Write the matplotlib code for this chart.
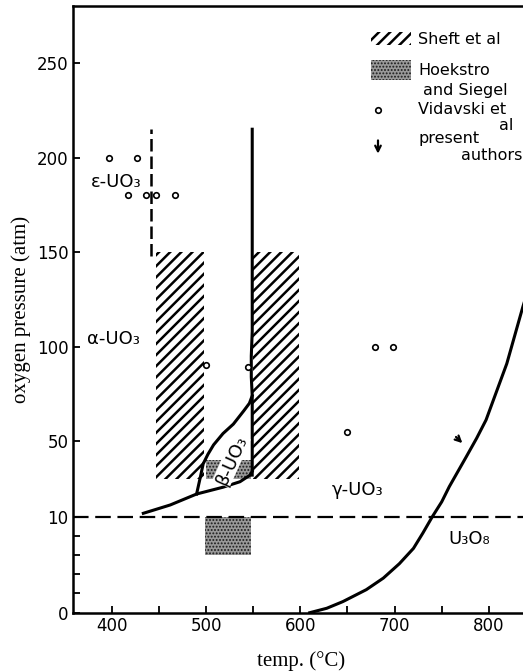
import numpy as np
import matplotlib
matplotlib.use('Agg')
import matplotlib.pyplot as plt
from matplotlib.patches import Rectangle

# --- data ---
# U3O8 boundary (temp degC, oxygen pressure atm)
u3o8_t = [610, 628, 645, 670, 688, 705, 720, 730, 740, 750, 758, 767, 776,
          787, 797, 819, 836, 844]
u3o8_p = [0, 0.46, 1.15, 2.4, 3.6, 5.1, 6.7, 8.3, 10, 17.9, 25.9, 33.8, 41.7,
          51.5, 61.2, 91, 121, 134]

# beta / gamma lower boundary
low_t = [433.5, 462, 490, 518, 536, 546.7, 549]
low_p = [11.8, 16.2, 22, 25.6, 28.5, 32, 34]

# alpha / beta boundary branch
br_t = [490, 494, 497, 502, 508, 518, 529, 540, 546, 549]
br_p = [22, 31, 38, 43, 48, 54, 59, 66, 70, 74]

# vertical alpha / gamma boundary
vert_t = [549, 549, 548, 548, 549, 549]
vert_p = [32, 74, 84, 95, 108, 215]

# epsilon / alpha boundary (dashed)
eps_t = [441.5, 441.5]
eps_p = [148, 215]

# Vidavski et al points
vid_t = [397, 426.5, 417.5, 436.5, 447, 467, 500.5, 545, 679, 698.5, 649]
vid_p = [200, 200, 180, 180, 180, 180, 90, 89, 100, 100, 55]

# Sheft et al ranges (t0, t1, p0, p1)
sheft = [(447, 498, 30, 150), (550, 599, 30, 150)]
# Hoekstra and Siegel ranges
hoek = [(499, 548, 6, 10), (500, 548, 30, 40)]

# present authors arrow (from, to)
arr_from = (763, 53.2)
arr_to = (774, 47.9)

labels = [('ε-UO₃', 405, 187, 0), ('α-UO₃', 402, 104, 0),
          ('β-UO₃', 527, 40, 66), ('γ-UO₃', 660.4, 24.1, 0),
          ('U₃O₈', 779.2, 7.7, 0)]

xticks = [400, 500, 600, 700, 800]
xminor = [450, 550, 650, 750]
yticks = [0, 10, 50, 100, 150, 200, 250]
yminor = [2, 4, 6, 8]

# --- piecewise linear pressure axis ---
r = 1.89 / 9.6


def fwd(y):
    y = np.asarray(y, float)
    return np.where(y <= 10, y, 10 + (y - 10) * r)


def inv(t):
    t = np.asarray(t, float)
    return np.where(t <= 10, t, 10 + (t - 10) / r)


sans = dict(family='DejaVu Sans')
serif = dict(family='Liberation Serif')

fig = plt.figure(figsize=(5.23, 6.71), dpi=100)
ax = fig.add_axes([72.7 / 523, 58.3 / 671, 457.3 / 523, 606.7 / 671])
ax.set_yscale('function', functions=(fwd, inv))
ax.set_xlim(358.6, 843.6)
ax.set_ylim(0, 280.2)

SH = '///'
ST = '.....'
plt.rcParams['hatch.linewidth'] = 1.8
for t0, t1, p0, p1 in sheft:
    ax.add_patch(Rectangle((t0, p0), t1 - t0, p1 - p0, facecolor='white',
                           edgecolor='black', linewidth=0, hatch=SH, zorder=1))
ax.add_patch(Rectangle((0.652, 0.9357), 0.088, 0.0214, transform=ax.transAxes,
                       facecolor='white', edgecolor='black', linewidth=0,
                       hatch=SH, zorder=5))
plt.rcParams['hatch.linewidth'] = 0.9
for t0, t1, p0, p1 in hoek:
    ax.add_patch(Rectangle((t0, p0), t1 - t0, p1 - p0, facecolor='#999999',
                           edgecolor='#1a1a1a', linewidth=0, hatch=ST, zorder=1.5))
ax.add_patch(Rectangle((0.652, 0.8779), 0.088, 0.033, transform=ax.transAxes,
                       facecolor='#999999', edgecolor='#1a1a1a', linewidth=0,
                       hatch=ST, zorder=5))

lw = 2.2
ax.plot(u3o8_t, u3o8_p, 'k-', lw=lw, zorder=3)
ax.plot(low_t, low_p, 'k-', lw=lw, zorder=3)
ax.plot(br_t, br_p, 'k-', lw=lw, zorder=3)
ax.plot(vert_t, vert_p, 'k-', lw=lw, zorder=3)
ax.plot(eps_t, eps_p, 'k', lw=1.8, dashes=(5, 2), zorder=3)
ax.axhline(10, color='k', lw=1.6, dashes=(7, 3), zorder=2)
ax.plot(vid_t, vid_p, 'o', ms=4, mfc='white', mec='black', mew=1.2, zorder=4)
ax.annotate('', xy=arr_to, xytext=arr_from,
            arrowprops=dict(arrowstyle='->', lw=1.6, color='k'))

for txt, t, p, rot in labels:
    bb = dict(facecolor='white', edgecolor='none', pad=0.3) if rot else None
    ax.text(t, p, txt, ha='center', va='center', rotation=rot, fontsize=13,
            bbox=bb, zorder=5, **sans)

# legend drawn by hand
ax.plot([0.6676], [0.8283], 'o', ms=4, mfc='white', mec='black', mew=1.2,
        transform=ax.transAxes)
ax.annotate('', xy=(0.6676, 0.752), xytext=(0.6676, 0.783),
            xycoords='axes fraction',
            arrowprops=dict(arrowstyle='->', lw=1.6, color='k'))
leg = [('Sheft et al', 0.7552, 0.944, 'left'),
       ('Hoekstro', 0.7552, 0.893, 'left'),
       ('and Siegel', 0.7661, 0.860, 'left'),
       ('Vidavski et', 0.7552, 0.830, 'left'),
       ('al', 0.9627, 0.8035, 'right'),
       ('present', 0.7552, 0.781, 'left'),
       ('authors', 0.850, 0.753, 'left')]
for txt, x, y, ha in leg:
    ax.text(x, y, txt, transform=ax.transAxes, ha=ha, va='center',
            fontsize=11.5, **sans)

ax.set_xticks(xticks)
ax.set_xticks(xminor, minor=True)
ax.set_yticks(yticks)
ax.set_yticks(yminor, minor=True)
ax.set_yticklabels([str(v) for v in yticks], fontsize=12, **sans)
ax.set_xticklabels([str(v) for v in xticks], fontsize=12, **sans)
ax.tick_params(which='both', direction='in', length=5, width=1.3)
ax.tick_params(axis='y', pad=3)
ax.tick_params(axis='x', pad=3)
for s in ax.spines.values():
    s.set_linewidth(1.8)

ax.set_xlabel('temp. (°C)', fontsize=15, labelpad=12, **serif)
ax.set_ylabel('oxygen pressure (atm)', fontsize=15, labelpad=4, **serif)

fig.savefig('out.png', dpi=100)
